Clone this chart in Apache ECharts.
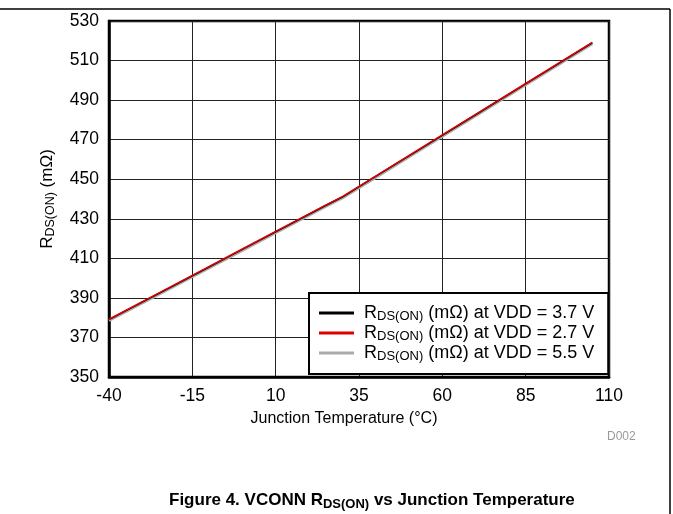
<!DOCTYPE html>
<html>
<head>
<meta charset="utf-8">
<script src="https://cdn.jsdelivr.net/npm/echarts@6/dist/echarts.min.js"></script>
<style>
html,body{margin:0;padding:0;background:#fff;}
#c{width:673px;height:514px;}
</style>
</head>
<body>
<div id="c"></div>
<script>
// Data
var temps = [-40, -25, -10, 0, 10, 25, 30, 40, 55, 70, 85, 105];
var vdd37 = [379, 392.3, 405.6, 414.5, 423.4, 436.7, 441, 451.4, 467, 482.6, 498.2, 519];
var vdd27 = [379.2, 392.5, 405.8, 414.7, 423.6, 436.9, 441.2, 451.6, 467.2, 482.8, 498.4, 519.2];
var vdd55 = [378.5, 391.8, 405.1, 414, 422.9, 436.2, 440.5, 450.9, 466.5, 482.1, 497.7, 518.5];
var xTicks = [-40, -15, 10, 35, 60, 85, 110];
var yTicks = [350, 370, 390, 410, 430, 450, 470, 490, 510, 530];
var seriesNames = ['3.7', '2.7', '5.5'];

function pairs(xs, ys) { return xs.map(function (x, i) { return [x, ys[i]]; }); }

var FONT = 'Liberation Sans, Arial, sans-serif';
var chart = echarts.init(document.getElementById('c'));
var legendRich = {
  a: {fontSize: 18, fontFamily: FONT, color: '#000', lineHeight: 20},
  b: {fontSize: 13, fontFamily: FONT, color: '#000', lineHeight: 10, verticalAlign: 'bottom'}
};
chart.setOption({
  animation: false,
  backgroundColor: '#fff',
  grid: {left: 109, right: 64, top: 21, bottom: 137, show: true, borderColor: '#000', borderWidth: 2.5, backgroundColor: 'transparent'},
  xAxis: {
    type: 'value', min: -40, max: 110, interval: 25,
    name: 'Junction Temperature (°C)', nameLocation: 'middle', nameGap: 34,
    nameTextStyle: {fontSize: 16, fontFamily: FONT, color: '#000', padding: [0, 30, 0, 0]},
    axisLine: {onZero: false, lineStyle: {color: '#000', width: 2.5}},
    axisTick: {show: false},
    axisLabel: {fontSize: 17.5, fontFamily: FONT, color: '#000', margin: 10,
      formatter: function (v) { return xTicks.indexOf(v) >= 0 ? String(v) : ''; }},
    splitLine: {show: true, lineStyle: {color: '#222', width: 1}}
  },
  yAxis: {
    type: 'value', min: 350, max: 530, interval: 20,
    name: '{a|R}{b|DS(ON)}{a| (mΩ)}', nameLocation: 'middle', nameGap: 52,
    nameTextStyle: {rich: {
      a: {fontSize: 17, fontFamily: FONT, color: '#000', lineHeight: 20},
      b: {fontSize: 12.5, fontFamily: FONT, color: '#000', lineHeight: 10, verticalAlign: 'bottom'}
    }},
    axisLine: {onZero: false, lineStyle: {color: '#000', width: 2.5}},
    axisTick: {show: false},
    axisLabel: {fontSize: 17.5, fontFamily: FONT, color: '#000', margin: 10,
      formatter: function (v) { return yTicks.indexOf(v) >= 0 ? String(v) : ''; }},
    splitLine: {show: true, lineStyle: {color: '#222', width: 1}}
  },
  legend: {
    data: seriesNames,
    orient: 'vertical', left: 309, top: 293,
    padding: [11, 14, 11, 10],
    itemGap: 1, itemWidth: 35, itemHeight: 3, icon: 'rect',
    backgroundColor: '#fff', borderColor: '#000', borderWidth: 2,
    formatter: function (n) { return '{a|R}{b|DS(ON)}{a| (mΩ) at VDD = ' + n + ' V}'; },
    textStyle: {rich: legendRich, padding: [0, 0, 0, 5]}
  },
  series: [
    {name: '3.7', type: 'line', data: pairs(temps, vdd37), showSymbol: false, symbol: 'none', z: 3,
      color: '#000', lineStyle: {color: '#000', width: 1.5}},
    {name: '2.7', type: 'line', data: pairs(temps, vdd27), showSymbol: false, symbol: 'none', z: 4,
      color: '#e00000', lineStyle: {color: '#e00000', width: 1.5}},
    {name: '5.5', type: 'line', data: pairs(temps, vdd55), showSymbol: false, symbol: 'none', z: 2,
      color: '#aaaaaa', lineStyle: {color: '#aaaaaa', width: 2.8}}
  ],
  graphic: [
    {type: 'line', shape: {x1: 0, y1: 9, x2: 670, y2: 9}, style: {stroke: '#000', lineWidth: 1.5}},
    {type: 'line', shape: {x1: 670, y1: 9, x2: 670, y2: 514}, style: {stroke: '#000', lineWidth: 1.5}},
    {type: 'text', left: 607, top: 431, style: {text: 'D002', font: '12px ' + FONT, fill: '#999'}},
    {type: 'text', left: 169, top: 492, style: {
      text: '{t|Figure 4. VCONN R}{s|DS(ON)}{t| vs Junction Temperature}',
      rich: {
        t: {font: 'bold 17px ' + FONT, fill: '#000', lineHeight: 20},
        s: {font: 'bold 13px ' + FONT, fill: '#000', lineHeight: 10, verticalAlign: 'bottom'}
      }
    }}
  ]
});
</script>
</body>
</html>
